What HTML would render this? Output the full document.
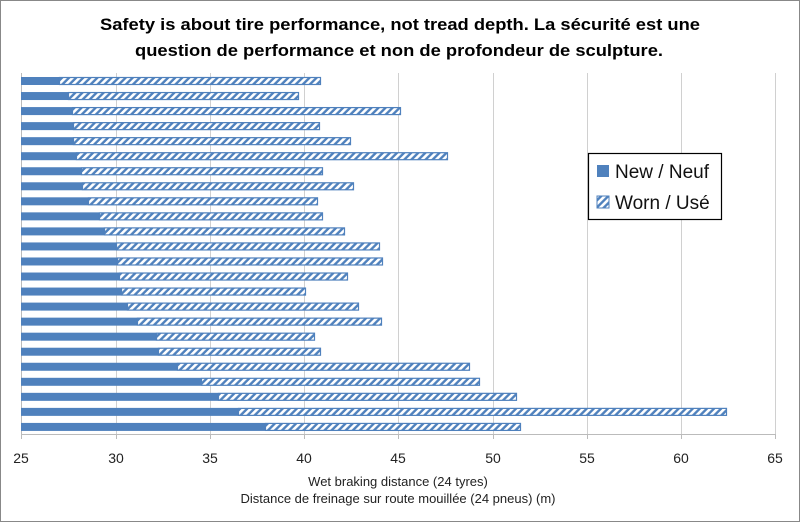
<!DOCTYPE html>
<html><head><meta charset="utf-8"><style>
html,body{margin:0;padding:0;background:#fff}
svg{display:block}
text{font-family:"Liberation Sans",sans-serif}
</style></head><body>
<svg width="800" height="522" viewBox="0 0 800 522" xmlns="http://www.w3.org/2000/svg">
<defs>
<pattern id="h" patternUnits="userSpaceOnUse" width="5" height="5" patternTransform="rotate(45)">
<rect width="5" height="5" fill="#4f81bd"/>
<rect width="2.6" height="5" fill="#fff"/>
</pattern>
</defs>
<rect x="0.5" y="0.5" width="799" height="521" fill="#fff" stroke="#888"/>
<text x="400" y="30" text-anchor="middle" font-weight="bold" font-size="17" textLength="600" lengthAdjust="spacingAndGlyphs">Safety is about tire performance, not tread depth. La sécurité est une</text>
<text x="399" y="56" text-anchor="middle" font-weight="bold" font-size="17" textLength="528" lengthAdjust="spacingAndGlyphs">question de performance et non de profondeur de sculpture.</text>
<g stroke="#d0d0d0" stroke-width="1">
<line x1="116.5" y1="73" x2="116.5" y2="434"/>
<line x1="210.5" y1="73" x2="210.5" y2="434"/>
<line x1="304.5" y1="73" x2="304.5" y2="434"/>
<line x1="398.5" y1="73" x2="398.5" y2="434"/>
<line x1="493.5" y1="73" x2="493.5" y2="434"/>
<line x1="587.5" y1="73" x2="587.5" y2="434"/>
<line x1="681.5" y1="73" x2="681.5" y2="434"/>
<line x1="775.5" y1="73" x2="775.5" y2="434"/>
</g>
<line x1="21.5" y1="73" x2="21.5" y2="439" stroke="#bbb"/>
<line x1="21" y1="434.5" x2="776" y2="434.5" stroke="#bbb"/>
<g stroke="#bbb">
<line x1="116.5" y1="434" x2="116.5" y2="439"/><line x1="210.5" y1="434" x2="210.5" y2="439"/><line x1="304.5" y1="434" x2="304.5" y2="439"/><line x1="398.5" y1="434" x2="398.5" y2="439"/><line x1="493.5" y1="434" x2="493.5" y2="439"/><line x1="587.5" y1="434" x2="587.5" y2="439"/><line x1="681.5" y1="434" x2="681.5" y2="439"/><line x1="775.5" y1="434" x2="775.5" y2="439"/>
</g>
<g id="bars"></g>
<g font-size="14" fill="#222" text-anchor="middle">
<text x="21" y="463">25</text><text x="116" y="463">30</text><text x="210" y="463">35</text><text x="304" y="463">40</text><text x="398" y="463">45</text><text x="493" y="463">50</text><text x="587" y="463">55</text><text x="681" y="463">60</text><text x="775" y="463">65</text>
</g>
<text x="398" y="486" text-anchor="middle" font-size="13" fill="#222">Wet braking distance (24 tyres)</text>
<text x="398" y="503" text-anchor="middle" font-size="13" fill="#222">Distance de freinage sur route mouillée (24 pneus) (m)</text>
<rect x="588.5" y="153.5" width="133" height="66" fill="#fff" stroke="#000" stroke-width="1.2"/>
<rect x="597" y="165" width="12" height="12" fill="#4f81bd"/>
<rect x="597" y="196" width="12" height="12" fill="url(#h)" stroke="#4f81bd"/>
<text x="615" y="178" font-size="19" fill="#111">New / Neuf</text>
<text x="615" y="209" font-size="19" fill="#111">Worn / Usé</text>
</svg>
<script>
var n=[59,68,72,73,73,76,81,82,88,99,104,116,117,119,121,127,137,156,158,177,201,218,238,265];
var w=[321,299,401,320,351,448,323,354,318,323,345,380,383,348,306,359,382,315,321,470,480,517,727,521];
var g=document.getElementById('bars'),s='';
for(var i=0;i<24;i++){var y=81+i*15.04-4;
s+='<rect x="21" y="'+y+'" width="'+(n[i]-21)+'" height="8" fill="#4f81bd"/>';
s+='<rect x="'+(n[i]+0.5)+'" y="'+(y+0.5)+'" width="'+(w[i]-n[i]-1)+'" height="7" fill="url(#h)" stroke="#4f81bd" stroke-width="1.2"/>';}
g.innerHTML=s;
</script>
</body></html>
